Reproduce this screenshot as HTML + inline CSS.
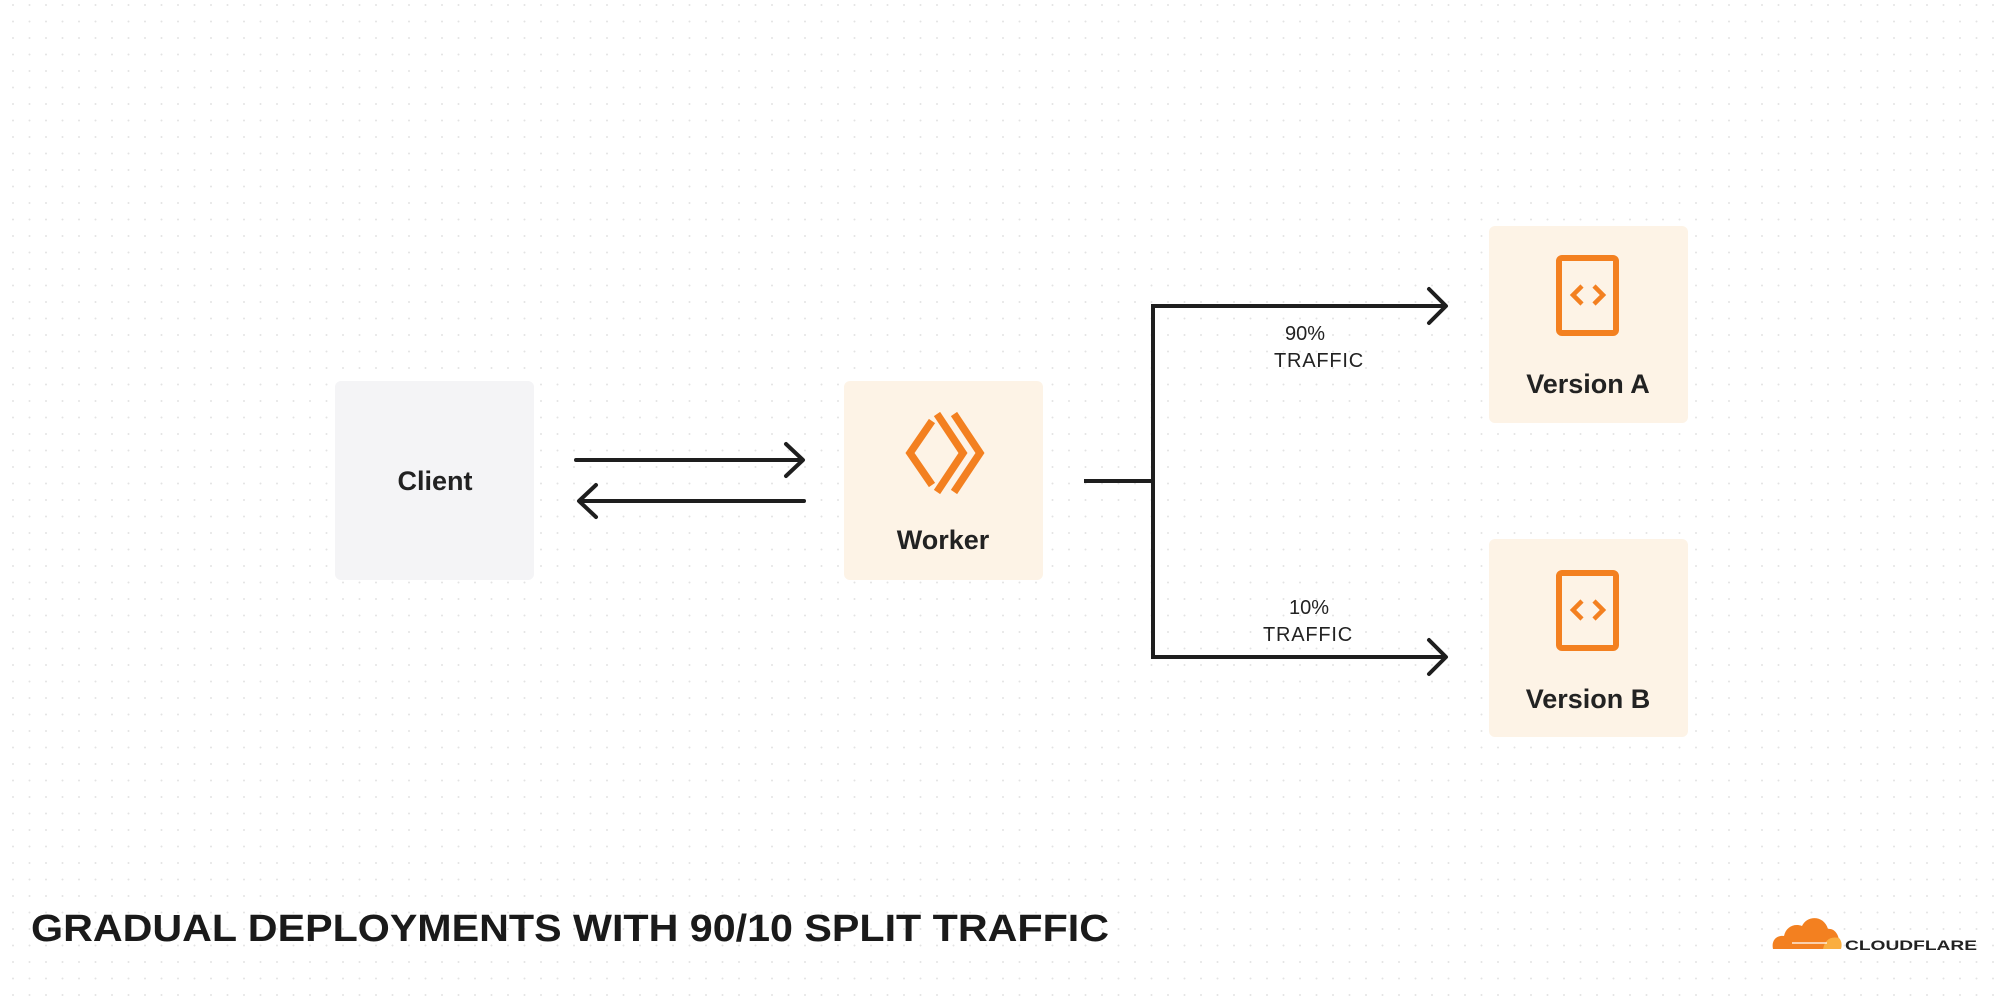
<!DOCTYPE html>
<html><head><meta charset="utf-8"><style>
html,body{margin:0;padding:0;background:#fff}
body{width:1999px;height:997px;overflow:hidden}
svg{display:block}
text{font-family:"Liberation Sans",sans-serif}
</style></head><body>
<svg width="1999" height="997" viewBox="0 0 1999 997" xmlns="http://www.w3.org/2000/svg">
<defs>
<pattern id="dots" x="12" y="4" width="16.5" height="16.5" patternUnits="userSpaceOnUse">
<circle cx="1" cy="1" r="1" fill="#e3e3e3"/>
</pattern>
</defs>
<rect width="1999" height="997" fill="#fff"/>
<rect width="1999" height="997" fill="url(#dots)"/>

<!-- Client -->
<rect x="335" y="381" width="199" height="199" rx="6" fill="#f4f4f6"/>
<text x="435" y="490" text-anchor="middle" font-size="27" font-weight="bold" fill="#222">Client</text>

<!-- Arrows client-worker -->
<g stroke="#1e1e1e" stroke-width="4" fill="none" stroke-linecap="round" stroke-linejoin="round">
<line x1="576" y1="460" x2="802" y2="460"/>
<polyline points="786,444 803,460 786,476"/>
<line x1="580" y1="501" x2="804" y2="501"/>
<polyline points="596,485 579,501 596,517"/>
</g>

<!-- Worker -->
<rect x="844" y="381" width="199" height="199" rx="6" fill="#fdf3e6"/>
<g stroke="#f38020" stroke-width="7.5" fill="none" stroke-linecap="butt">
<polyline points="932,421 910,453 932,485"/>
<polyline points="937,414 963,453 937,492"/>
<polyline points="954,414 980,453 954,492"/>
</g>
<text x="943" y="549" text-anchor="middle" font-size="27" font-weight="bold" fill="#222">Worker</text>

<!-- Split lines -->
<g stroke="#1e1e1e" stroke-width="4" fill="none" stroke-linejoin="miter">
<line x1="1084" y1="481" x2="1153" y2="481"/>
<polyline points="1446,306 1153,306 1153,657 1446,657"/>
</g>
<g stroke="#1e1e1e" stroke-width="4" fill="none" stroke-linecap="round" stroke-linejoin="round">
<polyline points="1429,289 1446,306 1429,323"/>
<polyline points="1429,640 1446,657 1429,674"/>
</g>
<g font-size="20" fill="#222" text-anchor="middle">
<text x="1305" y="340">90%</text>
<text x="1319" y="367" letter-spacing="0.8">TRAFFIC</text>
<text x="1309" y="614">10%</text>
<text x="1308" y="641" letter-spacing="0.8">TRAFFIC</text>
</g>

<!-- Version A -->
<rect x="1489" y="226" width="199" height="197" rx="6" fill="#fdf3e6"/>
<rect x="1559" y="258" width="57" height="75" rx="3" fill="none" stroke="#f38020" stroke-width="6"/>
<g stroke="#f38020" stroke-width="4.5" fill="none" stroke-linejoin="miter">
<polyline points="1582,286 1573,295 1582,304"/>
<polyline points="1594,286 1603,295 1594,304"/>
</g>
<text x="1588" y="393" text-anchor="middle" font-size="27" font-weight="bold" fill="#222">Version A</text>

<!-- Version B -->
<rect x="1489" y="539" width="199" height="198" rx="6" fill="#fdf3e6"/>
<rect x="1559" y="573" width="57" height="75" rx="3" fill="none" stroke="#f38020" stroke-width="6"/>
<g stroke="#f38020" stroke-width="4.5" fill="none" stroke-linejoin="miter">
<polyline points="1582,601 1573,610 1582,619"/>
<polyline points="1594,601 1603,610 1594,619"/>
</g>
<text x="1588" y="708" text-anchor="middle" font-size="27" font-weight="bold" fill="#222">Version B</text>

<!-- Title -->
<text x="31" y="941" font-size="38" font-weight="bold" fill="#1a1a1a" textLength="1078" lengthAdjust="spacingAndGlyphs">GRADUAL DEPLOYMENTS WITH 90/10 SPLIT TRAFFIC</text>

<!-- Cloudflare logo -->
<g>
<path d="M1773,949 C1771,940 1777,935 1784,936 C1786,927 1794,923 1802,926 C1807,915 1824,915 1828,929 C1835,928 1841,936 1839,949 Z" fill="#f38020"/>
<path d="M1823,949 C1825,940 1830,936 1839,938 C1842,941 1842,946 1841,949 Z" fill="#faae40"/>
<line x1="1792" y1="943" x2="1827" y2="943" stroke="#fff" stroke-width="1.2"/>
<text x="1845" y="950" font-size="14" font-weight="bold" fill="#222" textLength="132" lengthAdjust="spacingAndGlyphs">CLOUDFLARE</text>
</g>
</svg>
</body></html>
